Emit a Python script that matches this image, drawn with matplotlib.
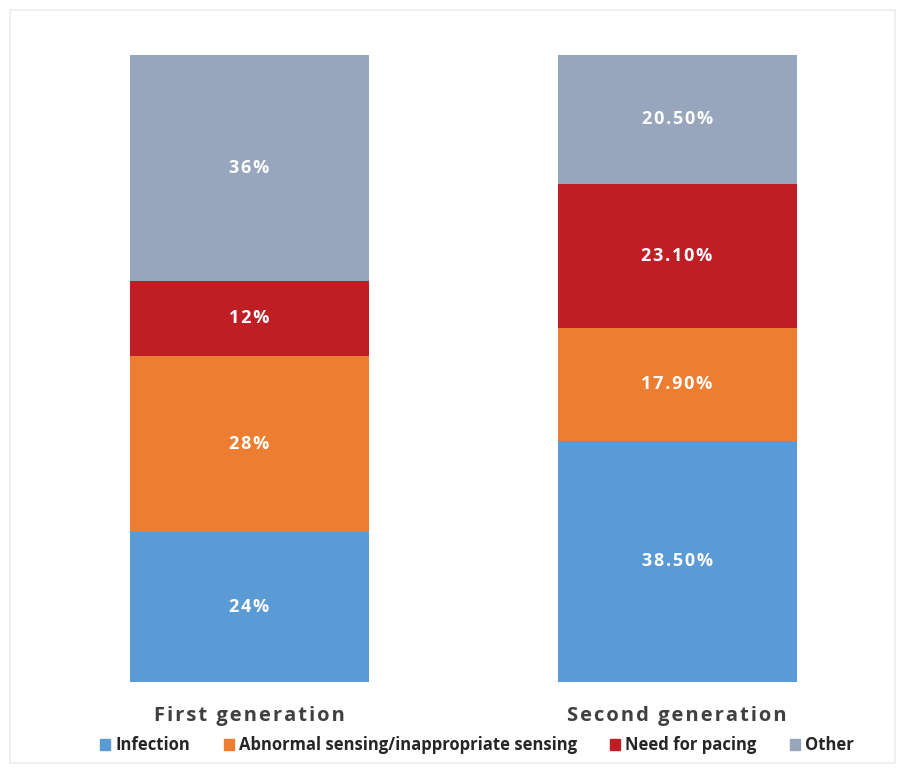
import numpy as np
import matplotlib.pyplot as plt
from matplotlib.patches import Rectangle, Patch

generations = ["First generation", "Second generation"]
causes = ["Infection", "Abnormal sensing/inappropriate sensing", "Need for pacing", "Other"]
infection = [24, 38.5]
abnormal = [28, 17.9]
pacing = [12, 23.1]
other = [36, 20.5]
value_labels = [["24%", "38.50%"], ["28%", "17.90%"], ["12%", "23.10%"], ["36%", "20.50%"]]
colors = ["#5B9BD5", "#ED7D31", "#BF1E25", "#97A6BD"]

plt.rcParams['font.family'] = ['Open Sans', 'DejaVu Sans']

def spaced(s, gap="\u200a"):
    # imitate the letter spacing of the original labels
    return gap.join(s)

fig = plt.figure(figsize=(9.05, 7.69), dpi=100)
fig.patches.append(Rectangle((0.011, 0.008), 0.978, 0.979, transform=fig.transFigure,
                             fill=False, edgecolor="#ECECEC", linewidth=1.2))
ax = fig.add_axes([15 / 905, 1 - 682 / 769, 875 / 905, 627 / 769])

x = np.arange(len(generations))
width = 0.559
bottom = np.zeros(len(generations))
series = [infection, abnormal, pacing, other]
for vals, col, name, labs in zip(series, colors, causes, value_labels):
    vals = np.array(vals)
    ax.bar(x, vals, width, bottom=bottom, color=col, label=name)
    for xi, b, v, t in zip(x, bottom, vals, labs):
        ax.text(xi, b + v / 2, spaced(t), ha="center", va="center", color="white",
                fontsize=13, fontweight="bold")
    bottom += vals

ax.set_xlim(-0.5485, 1.498)
ax.set_ylim(0, 100)
ax.set_yticks([])
ax.set_xticks(x)
ax.set_xticklabels([spaced(g) for g in generations], fontsize=14.5,
                   fontweight="bold", color="#404040")
ax.tick_params(axis="x", length=0, pad=17)
for s in ax.spines.values():
    s.set_visible(False)

handles = [Patch(color=c) for c in colors]
fig.legend(handles, causes, loc="center", bbox_to_anchor=(0.527, 0.031), ncol=4,
           frameon=False, handlelength=0.6, handleheight=0.6, handletextpad=0.3,
           columnspacing=2.0, prop={"size": 12, "weight": "bold"}, labelcolor="#262626")

fig.savefig("out.png", dpi=100)
